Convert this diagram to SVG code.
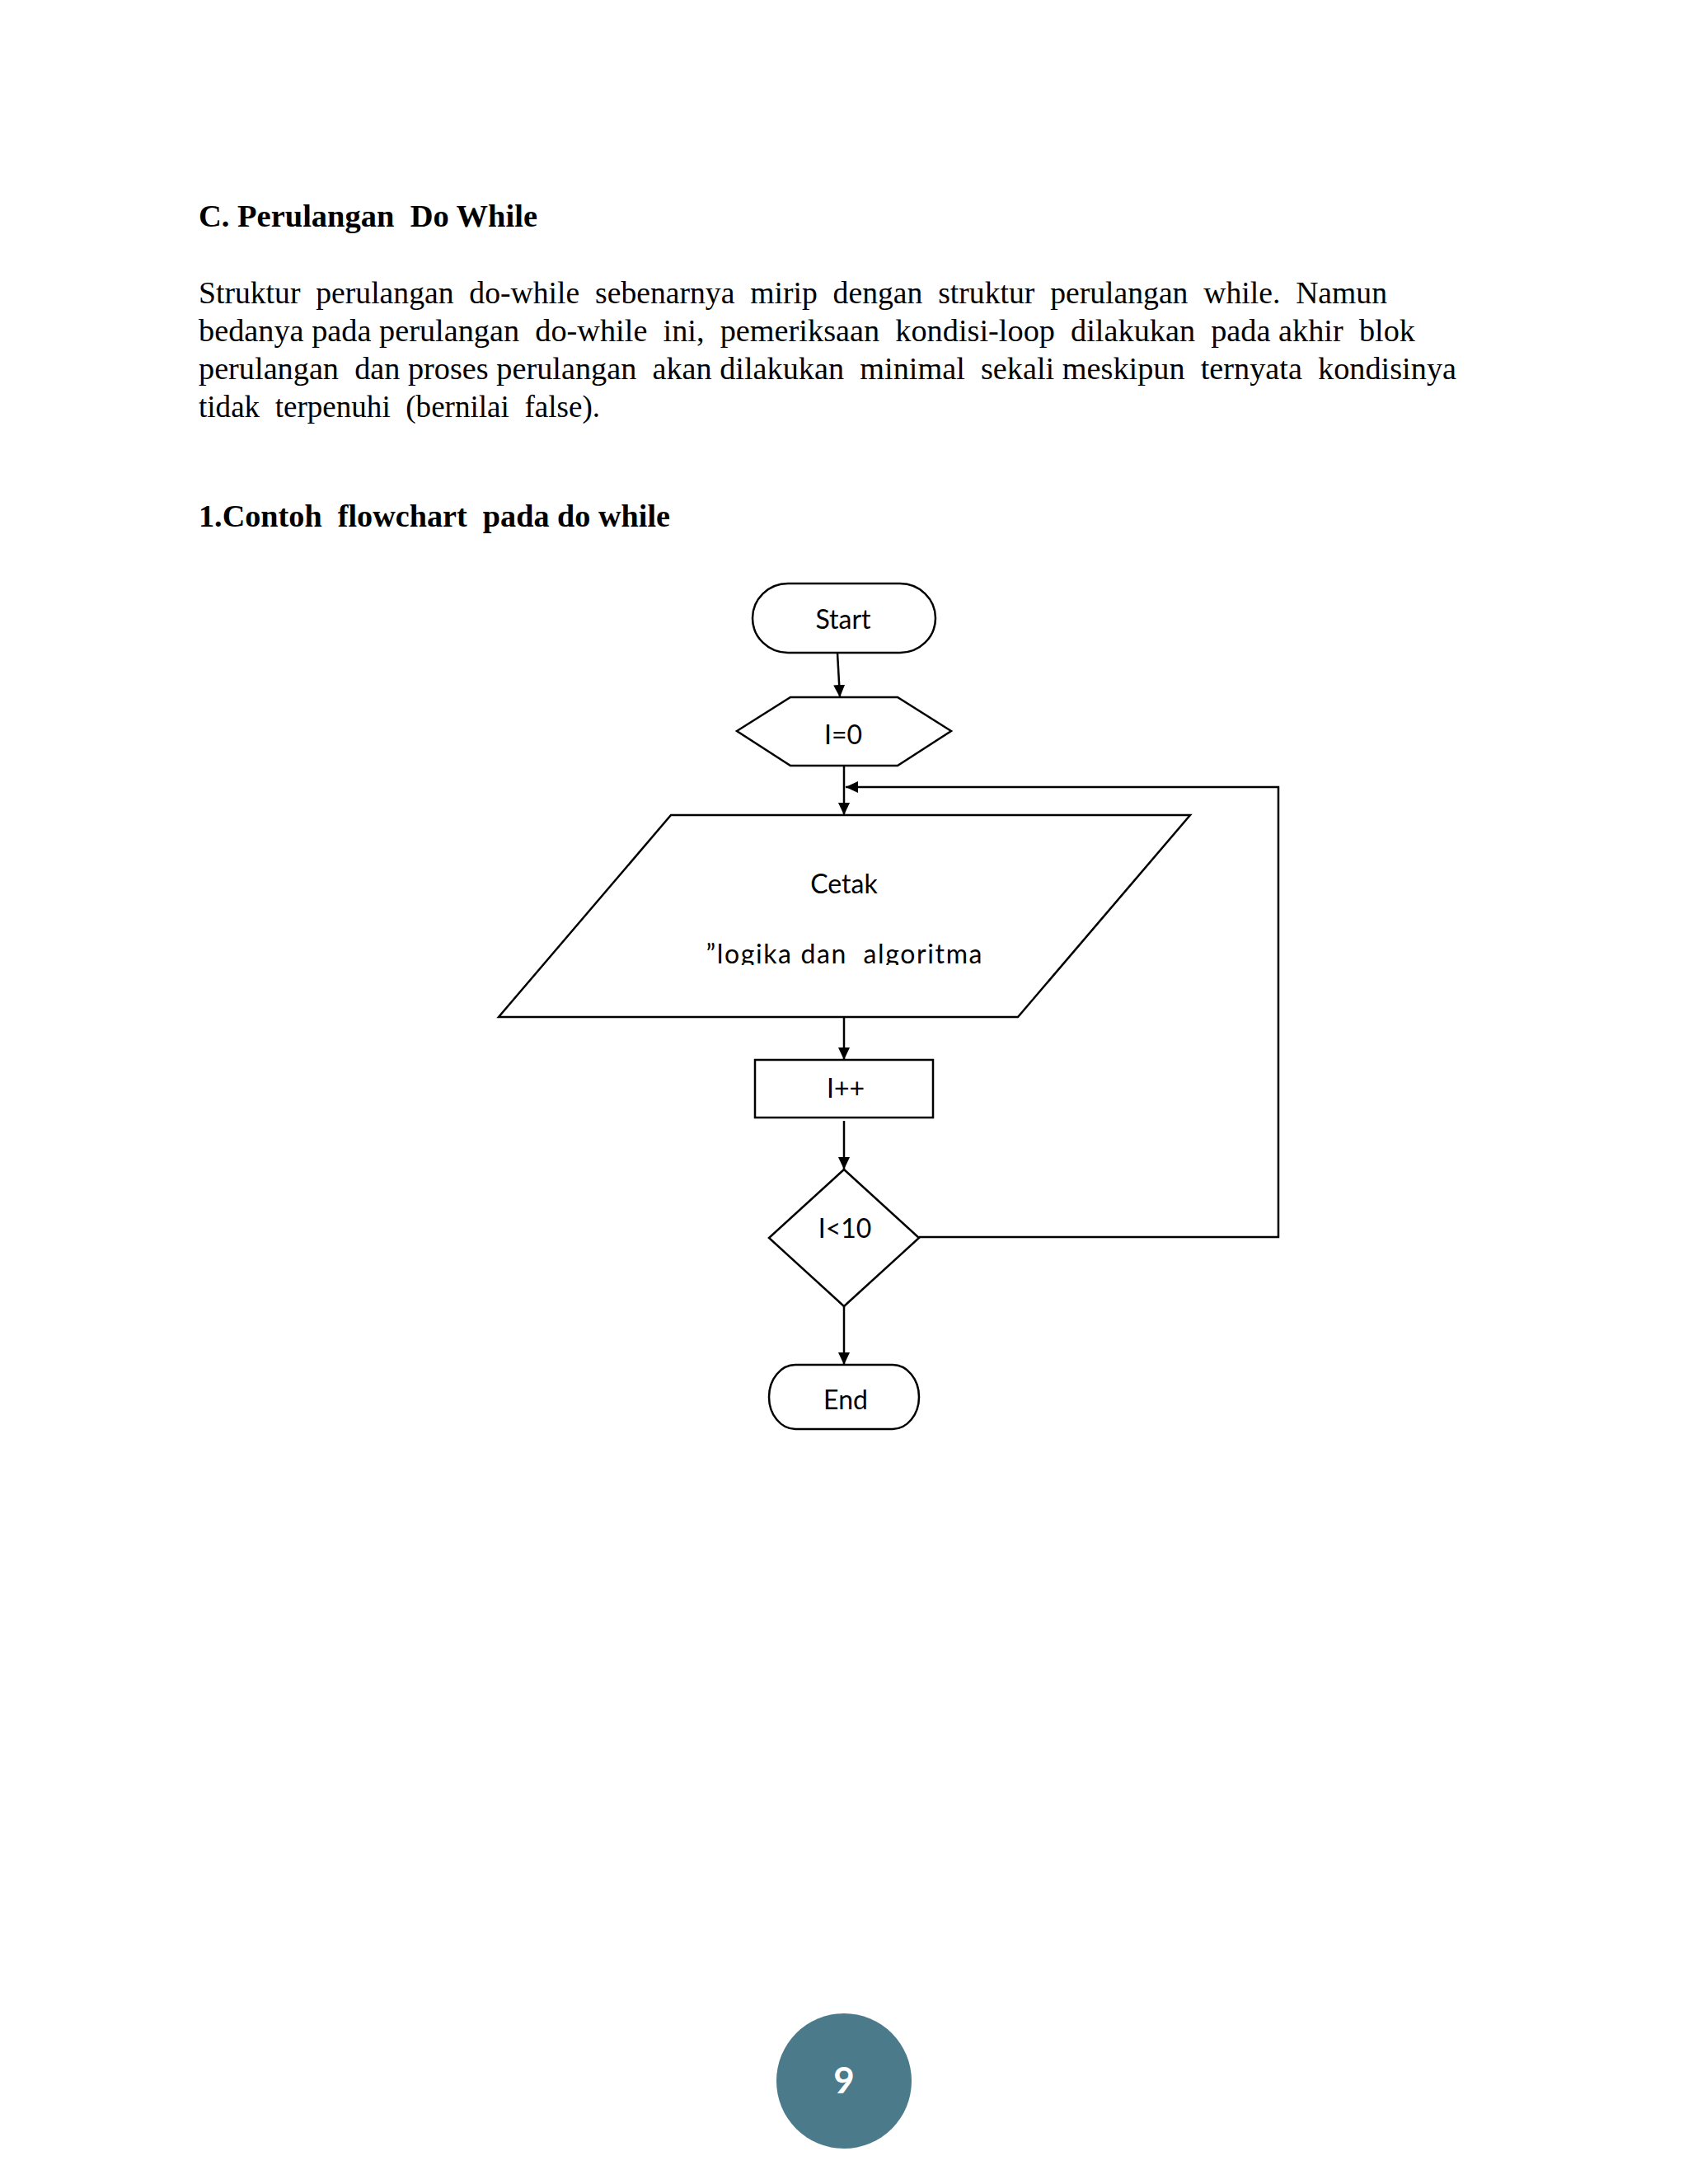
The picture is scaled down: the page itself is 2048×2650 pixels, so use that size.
<svg xmlns="http://www.w3.org/2000/svg" width="2048" height="2650" viewBox="0 0 2048 2650">
<defs>
<style>
.body{font-family:"Liberation Serif","Times New Roman",serif;font-size:37px;fill:#000}
.bold{font-weight:bold}
.shape{fill:#fff;stroke:#000;stroke-width:2.5}
.lbl{font-family:Lato,"Open Sans",sans-serif;font-size:32px;fill:#000;text-anchor:middle}
.conn{fill:none;stroke:#000;stroke-width:2.5}
</style>
<marker id="arr" markerUnits="userSpaceOnUse" markerWidth="16" markerHeight="14" refX="15" refY="7" orient="auto">
<path d="M0,0 L15,7 L0,14 Z" fill="#000"/>
</marker>
<clipPath id="paraclip"><rect x="600" y="989" width="850" height="182"/></clipPath>
</defs>
<rect width="2048" height="2650" fill="#fff"/>
<g id="text-block">
<text class="body bold" x="241" y="275" textLength="411" lengthAdjust="spacingAndGlyphs" xml:space="preserve">C. Perulangan  Do While</text>
<text class="body" x="241" y="368" textLength="1442" lengthAdjust="spacingAndGlyphs" xml:space="preserve">Struktur  perulangan  do-while  sebenarnya  mirip  dengan  struktur  perulangan  while.  Namun</text>
<text class="body" x="241" y="414" textLength="1476" lengthAdjust="spacingAndGlyphs" xml:space="preserve">bedanya pada perulangan  do-while  ini,  pemeriksaan  kondisi-loop  dilakukan  pada akhir  blok</text>
<text class="body" x="241" y="460" textLength="1526" lengthAdjust="spacingAndGlyphs" xml:space="preserve">perulangan  dan proses perulangan  akan dilakukan  minimal  sekali meskipun  ternyata  kondisinya</text>
<text class="body" x="241" y="506" textLength="487" lengthAdjust="spacingAndGlyphs" xml:space="preserve">tidak  terpenuhi  (bernilai  false).</text>
<text class="body bold" x="241" y="639" textLength="572" lengthAdjust="spacingAndGlyphs" xml:space="preserve">1.Contoh  flowchart  pada do while</text>
</g>
<g id="connectors">
<line class="conn" x1="1016" y1="792" x2="1019" y2="846" marker-end="url(#arr)"/>
<line class="conn" x1="1024" y1="929" x2="1024" y2="989" marker-end="url(#arr)"/>
<line class="conn" x1="1024" y1="1234" x2="1024" y2="1286" marker-end="url(#arr)"/>
<line class="conn" x1="1024" y1="1360" x2="1024" y2="1419" marker-end="url(#arr)"/>
<line class="conn" x1="1024" y1="1585" x2="1024" y2="1656" marker-end="url(#arr)"/>
<polyline class="conn" points="1115,1501 1551,1501 1551,955 1026,955" marker-end="url(#arr)"/>
</g>
<g id="node-start">
<rect class="shape" x="913" y="708" width="222" height="84" rx="43" ry="42"/>
<text class="lbl" x="1023" y="763">Start</text>
</g>
<g id="node-init">
<polygon class="shape" points="894,887 959,846 1089,846 1154,887 1089,929 959,929"/>
<text class="lbl" x="1023" y="903">I=0</text>
</g>
<g id="node-print">
<polygon class="shape" points="814,989 1444,989 1235,1234 605,1234"/>
<text class="lbl" x="1024" y="1084">Cetak</text>
<text class="lbl" x="1024" y="1169" clip-path="url(#paraclip)" textLength="335" lengthAdjust="spacing" xml:space="preserve">”logika dan  algoritma</text>
</g>
<g id="node-inc">
<rect class="shape" x="916" y="1286" width="216" height="70"/>
<text class="lbl" x="1026" y="1332">I++</text>
</g>
<g id="node-cond">
<polygon class="shape" points="1024,1419 1115,1502 1024,1585 933,1502"/>
<text class="lbl" x="1025" y="1502">I&lt;10</text>
</g>
<g id="node-end">
<rect class="shape" x="933" y="1656" width="182" height="78" rx="32" ry="39"/>
<text class="lbl" x="1026" y="1710">End</text>
</g>
<g id="page-number">
<circle cx="1024" cy="2525" r="82" fill="#4b7a8b"/>
<text x="1024" y="2540" font-family="Lato,'Open Sans',sans-serif" font-weight="bold" font-size="44" fill="#fff" text-anchor="middle">9</text>
</g>
</svg>
